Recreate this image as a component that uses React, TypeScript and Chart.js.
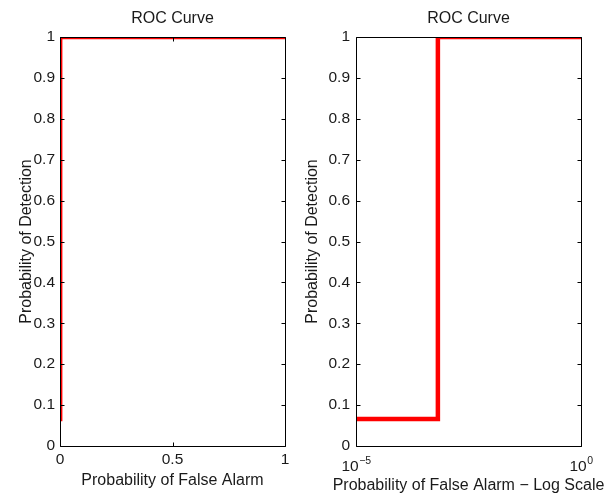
import React, { useEffect, useRef } from "react";
import { Chart, registerables } from "chart.js";

Chart.register(...registerables);

// ---------- data ----------
const FA = [1e-5, 6.6e-4, 6.6e-4, 1];
const PD = [0.066, 0.066, 1, 1];

const yTicks = [0, 0.1, 0.2, 0.3, 0.4, 0.5, 0.6, 0.7, 0.8, 0.9, 1];
const yTickLabels = ["0", "0.1", "0.2", "0.3", "0.4", "0.5", "0.6", "0.7", "0.8", "0.9", "1"];
const linTicks = [0, 0.5, 1];
const linTickLabels = ["0", "0.5", "1"];
const logTicks = [1e-5, 1];
const logTickBase = ["10", "10"];
const logTickExp = ["\u22125", "0"];

const TITLE = "ROC Curve";
const Y_LABEL = "Probability of Detection";
const X_LABEL_LIN = "Probability of False Alarm";
const X_LABEL_LOG = "Probability of False Alarm \u2212 Log Scale";

// ---------- styles ----------
const FONT = "'Liberation Sans', Arial, Helvetica, sans-serif";
const TEXT = "#1a1a1a";
const RED = "#ff0000";
const TICK_LEN = 4;

const framePlugin = {
  id: "frame",
  afterDatasetsDraw(chart: any) {
    const { ctx, chartArea: a, scales } = chart;
    const L = Math.round(a.left) + 0.5;
    const R = Math.round(a.right) + 0.5;
    const T = Math.round(a.top) + 0.5;
    const B = Math.round(a.bottom) + 0.5;
    ctx.save();
    ctx.strokeStyle = "#000";
    ctx.lineWidth = 1;
    ctx.beginPath();
    ctx.moveTo(L, T);
    ctx.lineTo(R, T);
    ctx.lineTo(R, B);
    ctx.lineTo(L, B);
    ctx.closePath();
    for (const t of scales.x.ticks) {
      const px = Math.round(scales.x.getPixelForValue(t.value)) + 0.5;
      ctx.moveTo(px, B);
      ctx.lineTo(px, B - TICK_LEN);
      ctx.moveTo(px, T);
      ctx.lineTo(px, T + TICK_LEN);
    }
    for (const t of scales.y.ticks) {
      const py = Math.round(scales.y.getPixelForValue(t.value)) + 0.5;
      ctx.moveTo(L, py);
      ctx.lineTo(L + TICK_LEN, py);
      ctx.moveTo(R, py);
      ctx.lineTo(R - TICK_LEN, py);
    }
    ctx.stroke();
    ctx.restore();
  },
};

const logLabelPlugin = {
  id: "logLabels",
  afterDraw(chart: any) {
    const { ctx, chartArea: a, scales } = chart;
    const x = scales.x;
    ctx.save();
    ctx.fillStyle = TEXT;
    ctx.textBaseline = "alphabetic";
    ctx.textAlign = "left";
    logTicks.forEach((v, i) => {
      const px = x.getPixelForValue(v);
      ctx.font = `15.5px ${FONT}`;
      const bw = ctx.measureText(logTickBase[i]).width;
      ctx.font = `10.5px ${FONT}`;
      const ew = ctx.measureText(logTickExp[i]).width;
      const start = px - (bw + ew) / 2;
      const baseY = a.bottom + 24.5;
      ctx.font = `15.5px ${FONT}`;
      ctx.fillText(logTickBase[i], start, baseY);
      ctx.font = `10.5px ${FONT}`;
      ctx.fillText(logTickExp[i], start + bw + 0.5, baseY - 6.5);
    });
    ctx.font = `16px ${FONT}`;
    ctx.textAlign = "center";
    ctx.textBaseline = "middle";
    ctx.fillText(X_LABEL_LOG, (a.left + a.right) / 2, a.bottom + 40);
    ctx.restore();
  },
};

function makeConfig(log: boolean): any {
  const font = { family: FONT, size: 15.5 };
  const points = FA.map((x, i) => ({ x, y: PD[i] }));
  return {
    type: "line",
    data: {
      datasets: [
        {
          data: points,
          borderColor: RED,
          borderWidth: 4.5,
          pointRadius: 0,
          fill: false,
          tension: 0,
          clip: 0,
        },
      ],
    },
    options: {
      responsive: false,
      maintainAspectRatio: false,
      animation: false,
      layout: { padding: { left: 0, right: log ? 24 : 15, top: 0, bottom: 0 } },
      plugins: {
        legend: { display: false },
        tooltip: { enabled: false },
        title: {
          display: true,
          text: TITLE,
          fullSize: false,
          color: TEXT,
          font: { family: FONT, size: 16, weight: "normal" },
          padding: { top: 8.8, bottom: 9 },
        },
      },
      scales: {
        x: log
          ? {
              type: "logarithmic",
              min: 1e-5,
              max: 1,
              afterBuildTicks: (s: any) => {
                s.ticks = logTicks.map((v) => ({ value: v }));
              },
              afterFit: (s: any) => {
                s.height = 47;
              },
              grid: { display: false, drawTicks: false },
              border: { display: false },
              ticks: { display: false },
              title: { display: false },
            }
          : {
              type: "linear",
              min: 0,
              max: 1,
              afterBuildTicks: (s: any) => {
                s.ticks = linTicks.map((v) => ({ value: v }));
              },
              afterFit: (s: any) => {
                s.height = 47;
              },
              grid: { display: false, drawTicks: false },
              border: { display: false },
              ticks: {
                callback: (_v: any, i: number) => linTickLabels[i],
                padding: 4,
                font,
                color: TEXT,
                maxRotation: 0,
                autoSkip: false,
              },
              title: {
                display: true,
                text: X_LABEL_LIN,
                color: TEXT,
                font: { family: FONT, size: 16 },
                padding: { top: 0, bottom: 2.5 },
              },
            },
        y: {
          type: "linear",
          min: 0,
          max: 1,
          afterBuildTicks: (s: any) => {
            s.ticks = yTicks.map((v) => ({ value: v }));
          },
          afterFit: (s: any) => {
            s.width = log ? 56 : 60;
          },
          grid: { display: false, drawTicks: false },
          border: { display: false },
          ticks: {
            callback: (_v: any, i: number) => yTickLabels[i],
            padding: log ? 6 : 5,
            font,
            color: TEXT,
            autoSkip: false,
          },
          title: {
            display: true,
            text: Y_LABEL,
            color: TEXT,
            font: { family: FONT, size: 16 },
            padding: { top: log ? 3.4 : 17, bottom: 0 },
          },
        },
      },
    },
    plugins: log ? [framePlugin, logLabelPlugin] : [framePlugin],
  };
}

function Panel({ log, left, width }: { log: boolean; left: number; width: number }) {
  const ref = useRef<HTMLCanvasElement | null>(null);
  useEffect(() => {
    if (!ref.current) return;
    const chart = new Chart(ref.current, makeConfig(log));
    return () => chart.destroy();
  }, [log]);
  return (
    <canvas
      ref={ref}
      width={width}
      height={493}
      style={{ position: "absolute", left, top: 0, width, height: 493, display: "block" }}
    />
  );
}

export default function App() {
  return (
    <div
      style={{
        position: "fixed",
        left: 0,
        top: 0,
        width: 605,
        height: 493,
        background: "#ffffff",
        overflow: "hidden",
      }}
    >
      <Panel log={false} left={0} width={300} />
      <Panel log={true} left={300} width={305} />
    </div>
  );
}
